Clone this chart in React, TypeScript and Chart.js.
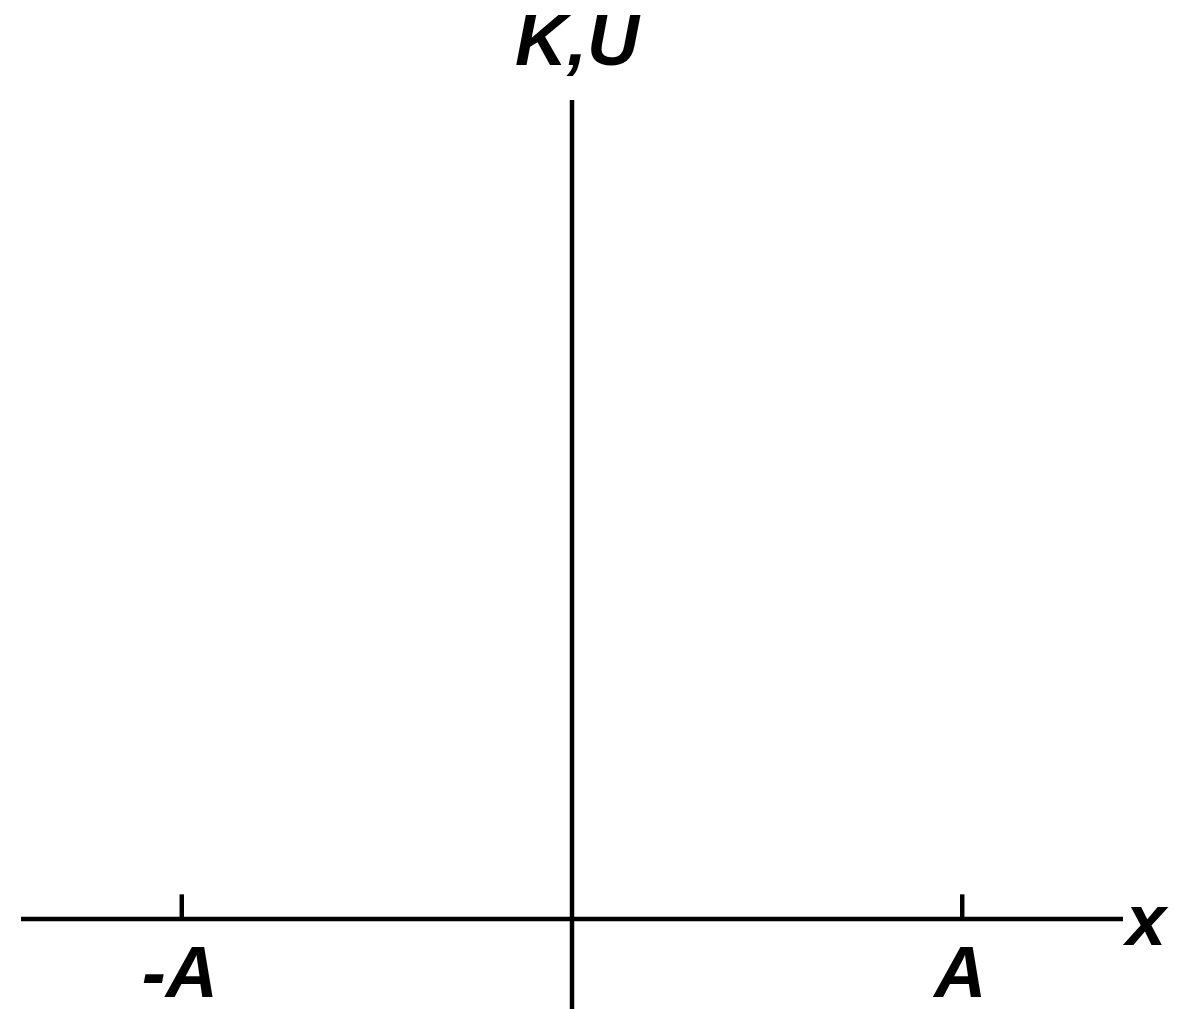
import React, { useEffect, useRef } from "react";
import { Chart, registerables } from "chart.js";

Chart.register(...registerables);

// Axis extents (A = 1)
const xAxisExtent = [-1.412, 1.412];
const yAxisExtent = [-0.11, 1.0];
// Tick marks on the x axis
const tickValues = [-1, 1];
const tickLabels = ["-A", "A"];
const tickHeight = 0.03;
// Axis titles
const xAxisTitle = "x";
const yAxisTitle = "K,U";

const FONT = "italic bold 72px 'Liberation Sans', Arial, Helvetica, sans-serif";

export default function App() {
  const canvasRef = useRef<HTMLCanvasElement | null>(null);

  useEffect(() => {
    const canvas = canvasRef.current;
    if (!canvas) return;

    const labelPlugin = {
      id: "axisLabels",
      afterDatasetsDraw(chart: any) {
        const { ctx, scales } = chart;
        const xs = scales.x;
        const ys = scales.y;
        ctx.save();
        ctx.fillStyle = "#000";
        ctx.font = FONT;
        ctx.textBaseline = "alphabetic";
        ctx.textAlign = "center";
        const y0 = ys.getPixelForValue(0);
        tickValues.forEach((v, i) => {
          const px = xs.getPixelForValue(v);
          ctx.fillText(tickLabels[i], px - 2, y0 + 78);
        });
        // x axis title at the right end
        ctx.textAlign = "left";
        ctx.fillText(xAxisTitle, xs.getPixelForValue(xAxisExtent[1]) + 3, y0 + 26);
        // y axis title above the vertical axis
        ctx.textAlign = "center";
        ctx.fillText(yAxisTitle, xs.getPixelForValue(0) + 5, ys.getPixelForValue(yAxisExtent[1]) - 35);
        ctx.restore();
      },
    };

    const lineStyle = {
      showLine: true,
      borderColor: "#000",
      backgroundColor: "#000",
      borderWidth: 4.5,
      pointRadius: 0,
      pointHoverRadius: 0,
      clip: false as any,
      tension: 0,
    };

    const datasets: any[] = [
      {
        ...lineStyle,
        label: "x axis",
        data: [
          { x: xAxisExtent[0], y: 0 },
          { x: xAxisExtent[1], y: 0 },
        ],
      },
      {
        ...lineStyle,
        label: "y axis",
        data: [
          { x: 0, y: yAxisExtent[0] },
          { x: 0, y: yAxisExtent[1] },
        ],
      },
      ...tickValues.map((v, i) => ({
        ...lineStyle,
        label: "tick " + tickLabels[i],
        data: [
          { x: v, y: 0 },
          { x: v, y: tickHeight },
        ],
      })),
    ];

    const chart = new Chart(canvas, {
      type: "scatter",
      data: { datasets },
      options: {
        animation: false,
        responsive: false,
        devicePixelRatio: 1,
        layout: { padding: { left: 21, right: 64, top: 100, bottom: 0 } },
        plugins: {
          legend: { display: false },
          tooltip: { enabled: false },
          title: { display: false },
        },
        events: [],
        scales: {
          x: {
            type: "linear",
            display: false,
            min: xAxisExtent[0],
            max: xAxisExtent[1],
          },
          y: {
            type: "linear",
            display: false,
            min: yAxisExtent[0],
            max: yAxisExtent[1],
          },
        },
      },
      plugins: [labelPlugin],
    });

    return () => {
      chart.destroy();
    };
  }, []);

  return (
    <div
      style={{
        position: "absolute",
        left: 0,
        top: 0,
        width: 1187,
        height: 1009,
        background: "#fff",
      }}
    >
      <canvas ref={canvasRef} width={1187} height={1009} style={{ display: "block" }} />
    </div>
  );
}
